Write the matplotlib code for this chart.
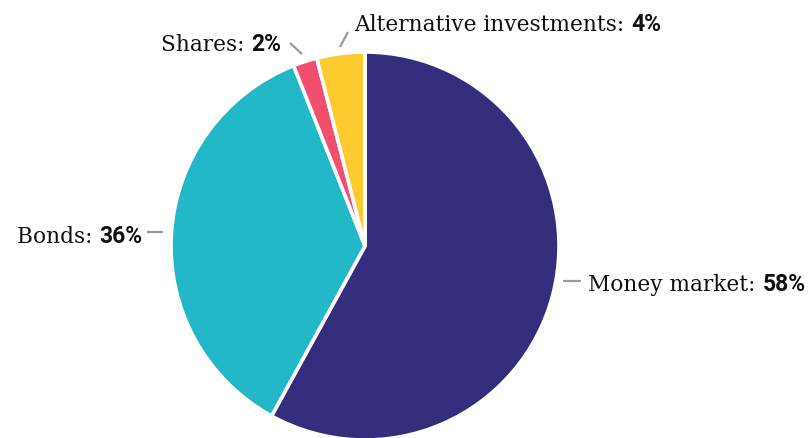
import matplotlib
matplotlib.use("Agg")
import matplotlib.pyplot as plt
import numpy as np

# Portfolio allocation
categories = ["Money market", "Bonds", "Shares", "Alternative investments"]
shares_pct = [58, 36, 2, 4]
colors = ["#332D7B", "#23B8C7", "#F0506E", "#FFCB2F"]

W, H = 811, 439
fig = plt.figure(figsize=(W / 100, H / 100), dpi=100)
ax = fig.add_axes([0, 0, 1, 1])

cx, cy, R = 365, 247, 194

# Pie wedges, clockwise from 12 o'clock (y axis is flipped, so counterclock
# in data space reads clockwise on screen)
wedges, _ = ax.pie(shares_pct, colors=colors, startangle=-90, counterclock=True,
                   center=(cx, cy), radius=R, frame=True,
                   wedgeprops=dict(edgecolor="white", linewidth=2.6))
ax.set_xlim(0, W)
ax.set_ylim(H, 0)
ax.set_aspect("auto")
ax.axis("off")

# label layout: (connector start, connector end, text anchor x, baseline y, side)
layout = {
    "Money market": ((563, 282), (581, 282), 588, 291, "left"),
    "Bonds": ((163, 233), (147, 233), 142, 243, "right"),
    "Shares": ((302, 55), (290, 44), 281, 51, "right"),
    "Alternative investments": ((340, 48), (348, 33), 354, 31, "left"),
}

fig.canvas.draw()
renderer = fig.canvas.get_renderer()
reg_font = dict(family="DejaVu Serif", size=15.6, color="#111111")
bold_font = dict(family="Roboto", size=16.5, weight="bold", color="#111111")

for name, pct in zip(categories, shares_pct):
    p0, p1, tx, ty, side = layout[name]
    ax.plot([p0[0], p1[0]], [p0[1], p1[1]], color="#999999", lw=1.6,
            solid_capstyle="butt")
    if side == "left":
        t1 = ax.text(tx, ty, f"{name}: ", ha="left", va="baseline", **reg_font)
        bb = t1.get_window_extent(renderer)
        x_end = ax.transData.inverted().transform((bb.x1, 0))[0]
        ax.text(x_end, ty, f"{pct}%", ha="left", va="baseline", **bold_font)
    else:
        t2 = ax.text(tx, ty, f"{pct}%", ha="right", va="baseline", **bold_font)
        bb = t2.get_window_extent(renderer)
        x_start = ax.transData.inverted().transform((bb.x0, 0))[0]
        ax.text(x_start, ty, f"{name}: ", ha="right", va="baseline", **reg_font)

fig.savefig("out.png", dpi=100, facecolor="white")
